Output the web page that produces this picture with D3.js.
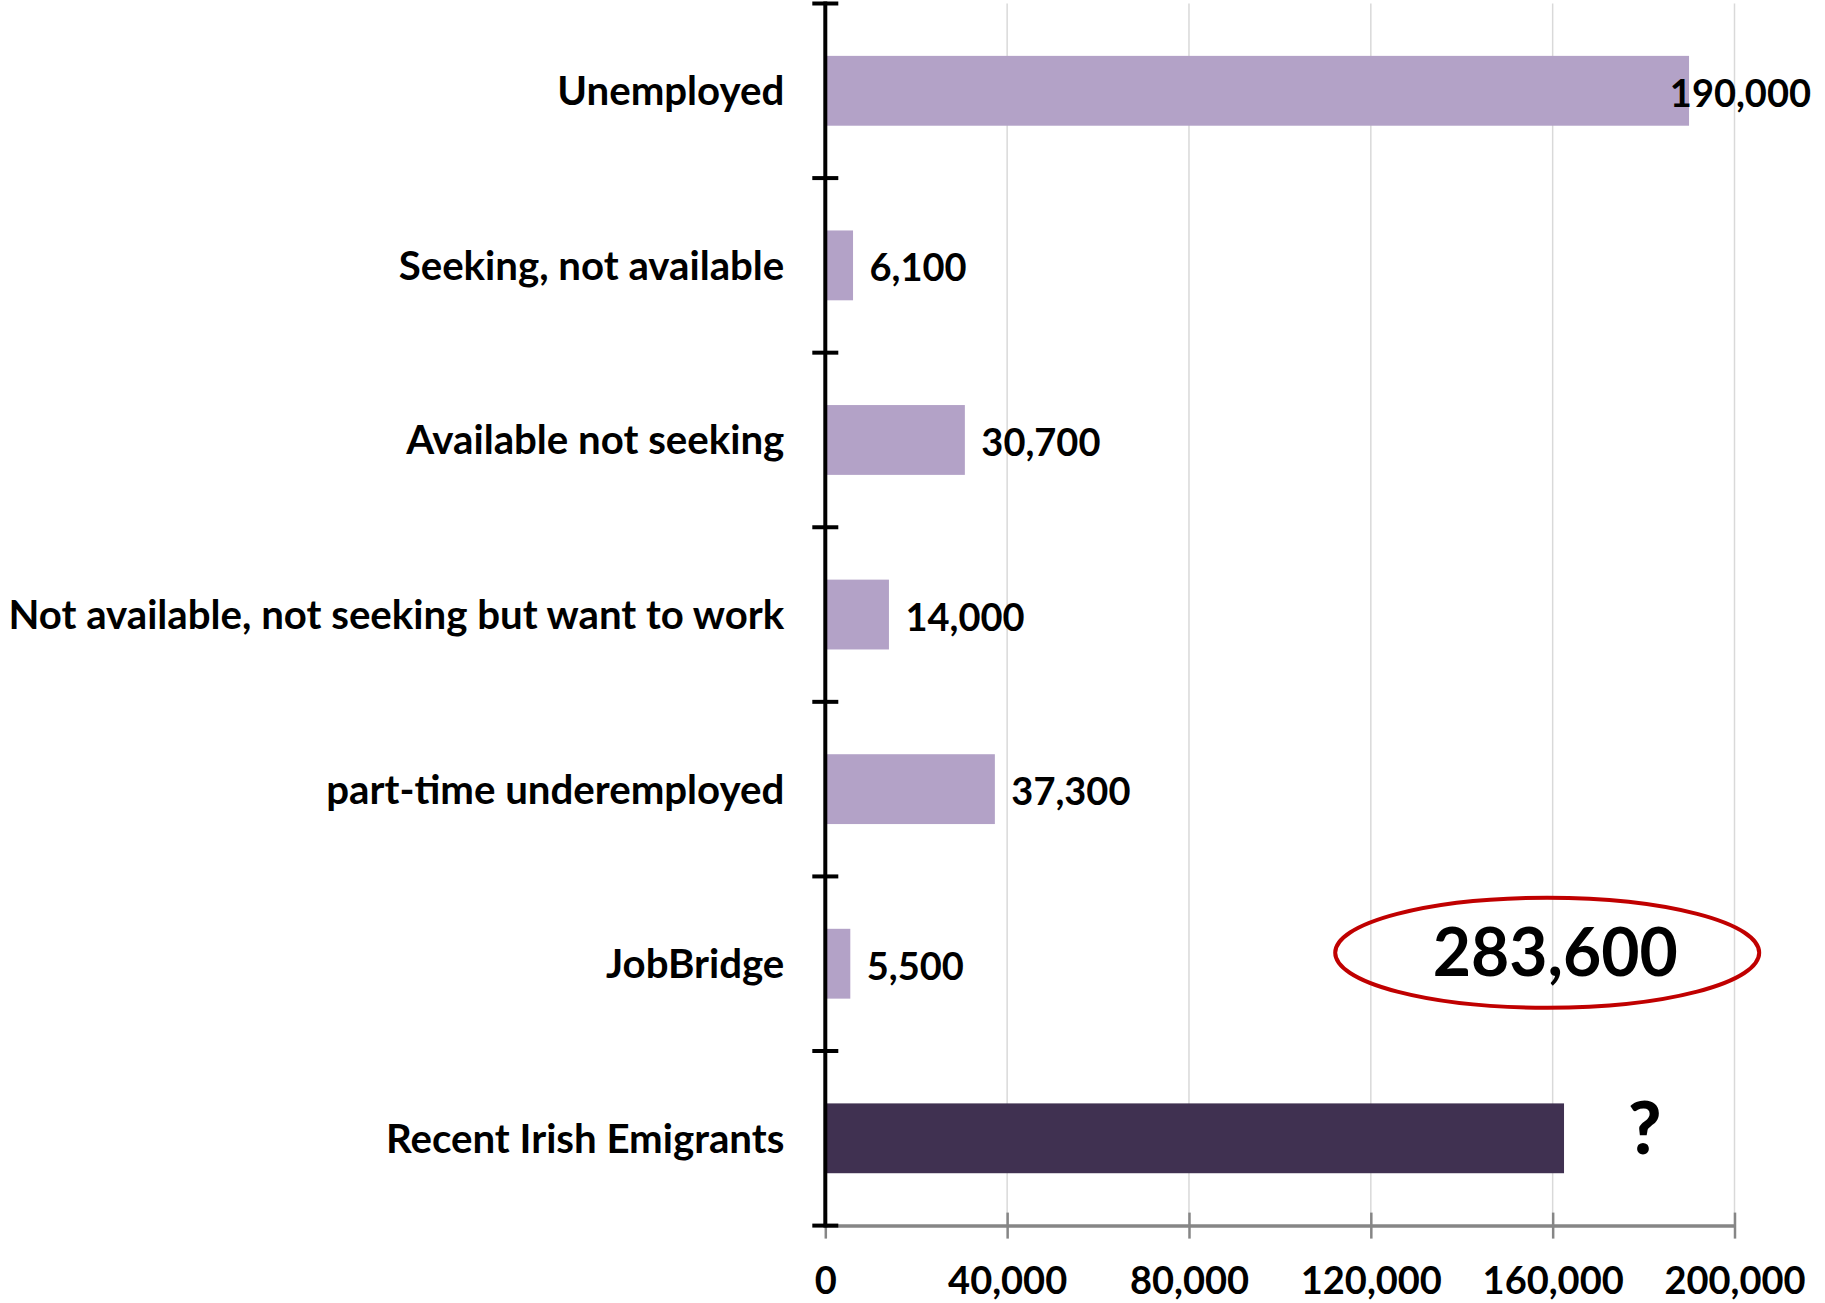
<!DOCTYPE html>
<html>
<head>
<meta charset="utf-8">
<script src="https://cdn.jsdelivr.net/npm/d3@7"></script>
<style>
  body { margin: 0; background: #fff; }
  svg { display: block; font-family: Lato, "Open Sans", sans-serif; font-weight: 700; }
</style>
</head>
<body>
<script>
// chart data
var categories = [
  "Unemployed",
  "Seeking, not available",
  "Available not seeking",
  "Not available, not seeking but want to work",
  "part-time underemployed",
  "JobBridge",
  "Recent Irish Emigrants"
];
var values = [190000, 6100, 30700, 14000, 37300, 5500, 162500];
var xTicks = [0, 40000, 80000, 120000, 160000, 200000];
var unknownLabel = "?";

var svgWidth = 1825;
var svgHeight = 1303;

// plot area in page pixels
var plot = { left: 825.3, right: 1734.5, top: 3.5, bottom: 1225.6 };

var svg = d3.select("body")
  .append("svg")
  .attr("width", svgWidth)
  .attr("height", svgHeight);

var fmt = d3.format(",");

var xScale = d3.scaleLinear()
  .domain([0, 200000])
  .range([plot.left, plot.right]);

var yScale = d3.scaleBand()
  .domain(categories)
  .range([plot.top, plot.bottom])
  .paddingInner(0.6)
  .paddingOuter(0.3);

var step = yScale.step();

// vertical gridlines
svg.append("g")
  .selectAll("line")
  .data(xTicks.slice(1))
  .enter()
  .append("line")
  .attr("x1", d => xScale(d))
  .attr("x2", d => xScale(d))
  .attr("y1", plot.top)
  .attr("y2", plot.bottom)
  .attr("stroke", "#d9d9d9")
  .attr("stroke-width", 1.5);

// bottom axis (grey, ticks crossing the line)
var bottomAxis = d3.axisBottom(xScale)
  .tickValues(xTicks)
  .tickFormat(fmt)
  .tickSizeInner(13)
  .tickSizeOuter(0)
  .tickPadding(30);

var xAxisG = svg.append("g")
  .attr("transform", `translate(0, ${plot.bottom})`)
  .call(bottomAxis);

xAxisG.select(".domain")
  .attr("stroke", "#868686")
  .attr("stroke-width", 3.5);

xAxisG.selectAll(".tick line")
  .attr("y1", -13)
  .attr("stroke", "#868686")
  .attr("stroke-width", 2.5);

xAxisG.selectAll(".tick text")
  .attr("fill", "#000")
  .attr("font-family", "Lato, sans-serif")
  .attr("font-weight", 700)
  .attr("font-size", 38)
  .attr("y", 0)
  .attr("dy", null)
  .attr("transform", "translate(0, 68)");

// bars
var bars = svg.append("g")
  .selectAll("rect")
  .data(values)
  .enter()
  .append("rect")
  .attr("x", xScale(0))
  .attr("y", (d, i) => yScale(categories[i]))
  .attr("width", d => xScale(d) - xScale(0))
  .attr("height", yScale.bandwidth())
  .attr("fill", (d, i) => i === values.length - 1 ? "#403151" : "#b3a2c7");

// left axis (black, ticks at category boundaries)
svg.append("line")
  .attr("x1", plot.left)
  .attr("x2", plot.left)
  .attr("y1", plot.top - 2)
  .attr("y2", plot.bottom + 2)
  .attr("stroke", "#000")
  .attr("stroke-width", 4);

svg.append("g")
  .selectAll("line")
  .data(d3.range(categories.length + 1))
  .enter()
  .append("line")
  .attr("x1", plot.left - 13)
  .attr("x2", plot.left + 13)
  .attr("y1", i => plot.top + i * step)
  .attr("y2", i => plot.top + i * step)
  .attr("stroke", "#000")
  .attr("stroke-width", 4);

// category labels
svg.append("g")
  .selectAll("text")
  .data(categories)
  .enter()
  .append("text")
  .attr("x", plot.left - 41)
  .attr("y", d => yScale(d) + yScale.bandwidth() / 2)
  .attr("dy", "0.36em")
  .attr("text-anchor", "end")
  .attr("font-size", 40.2)
  .text(d => d);

// value labels (pushed back inside if they would overflow)
var labelRight = 1811;
svg.append("g")
  .selectAll("text")
  .data(values.slice(0, -1))
  .enter()
  .append("text")
  .attr("y", (d, i) => yScale(categories[i]) + yScale.bandwidth() / 2)
  .attr("dy", "0.42em")
  .attr("font-size", 38)
  .text(d => fmt(d))
  .attr("x", function(d) {
    var w = this.getComputedTextLength();
    return Math.min(xScale(d) + 16.5, labelRight - w);
  });

// question mark for the emigrants bar
var last = values.length - 1;
svg.append("text")
  .attr("x", xScale(values[last]) + 64)
  .attr("y", yScale(categories[last]) + 51)
  .attr("font-size", 72)
  .attr("font-weight", 900)
  .text(unknownLabel);

// total of domestic categories, circled
var total = d3.sum(values.slice(0, -1));
var cx = xScale(158800);
var cy = yScale(categories[5]) + yScale.bandwidth() / 2 - 11;

svg.append("ellipse")
  .attr("cx", cx)
  .attr("cy", cy)
  .attr("rx", 212)
  .attr("ry", 55)
  .attr("fill", "none")
  .attr("stroke", "#c00000")
  .attr("stroke-width", 4);

svg.append("text")
  .attr("x", cx + 8)
  .attr("y", cy)
  .attr("dy", "0.36em")
  .attr("text-anchor", "middle")
  .attr("font-size", 66)
  .text(fmt(total));
</script>
</body>
</html>
